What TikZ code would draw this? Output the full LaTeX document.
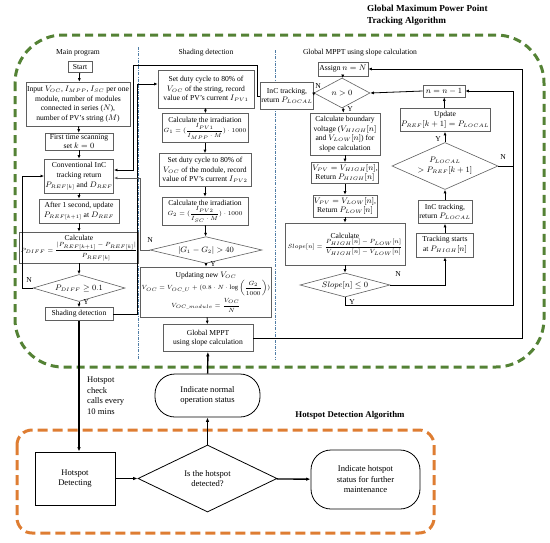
\documentclass[tikz,border=0pt]{standalone}
\usepackage{amsmath}
\usepackage{fontspec}
\setmainfont{Liberation Serif}
\usetikzlibrary{shapes.geometric,arrows.meta,calc}
\newcommand\fsz{\fontsize{7.6}{9.6}\selectfont}
\newcommand\ffs{\fontsize{6.5}{7.6}\selectfont}
\newcommand\fbig{\fontsize{8.6}{10.5}\selectfont}
\definecolor{grn}{RGB}{84,130,53}
\definecolor{org}{RGB}{222,125,50}
\definecolor{sepc}{RGB}{80,125,165}
\definecolor{bgray}{RGB}{95,95,95}
\begin{document}
\begin{tikzpicture}[x=1pt,y=-1pt,
  box/.style={draw=bgray, line width=0.6pt, fill=white, align=center, font=\fsz, inner sep=1pt},
  dia/.style={diamond, draw=bgray, line width=0.6pt, fill=white, align=center, font=\fsz, inner sep=0pt, aspect=3},
  bbox/.style={draw=black, line width=0.8pt, fill=white, align=center, font=\fbig, inner sep=1pt},
  arr/.style={-{Latex[length=3.5pt,width=3pt]}, line width=0.8pt},
  ln/.style={line width=0.8pt},
  barr/.style={-{Latex[length=4.5pt,width=3.5pt]}, line width=1.4pt},
  lbl/.style={font=\fsz, inner sep=0pt},
  sep/.style={draw=sepc, line width=0.7pt, dash pattern=on 3pt off 1.3pt on 0.7pt off 1.3pt}]
\useasboundingbox (0,0) rectangle (550,542);
% frames
\draw[grn, line width=3pt, dash pattern=on 8pt off 5pt, rounded corners=48pt] (15,35) rectangle (544,367);
\draw[org, line width=3pt, dash pattern=on 10pt off 5pt, rounded corners=15pt] (17,430) rectangle (434,533);
\node[font=\fontsize{9.2}{12}\selectfont\bfseries, align=left, anchor=north west, inner sep=0pt] (title) at (367,5) {Global Maximum Power Point\\Tracking Algorithm};
\node[font=\fontsize{8.8}{11}\selectfont\bfseries, inner sep=0pt] (title2) at (350,415) {Hotspot Detection Algorithm};
% separators
\draw[sep] (138,47) -- (138,360);
\draw[sep] (275,50) -- (275,360);
% column labels
\node[lbl] (l1) at (78,53) {Main program};
\node[lbl] (l2) at (206,53) {Shading detection};
\node[lbl] (l3) at (360,53) {Global MPPT using slope calculation};
% main program
\node[box, minimum width=24, minimum height=11] (start) at (80,67) {Start};
\node[box, minimum width=100, minimum height=44] (input) at (78,104) {Input $V_{OC}$, $I_{MPP}$, $I_{SC}$ per one\\module, number of modules\\connected in series ($N$),\\number of PV's string ($M$)};
\node[box, minimum width=68, minimum height=17] (first) at (79,141.5) {First time scanning\\set $k=0$};
\node[box, minimum width=68, minimum height=34] (conv) at (79,176) {Conventional InC\\tracking return\\$P_{REF[k]}$ and $D_{REF}$};
\node[box, minimum width=80, minimum height=24] (after) at (79,211) {After 1 second, update\\$P_{REF[k+1]}$ at $D_{REF}$};
\node[box, minimum width=104, minimum height=31] (calc) at (79,247.5) {Calculate\\[1pt]{\ffs $P_{DIFF}=\dfrac{|P_{REF[k+1]}-P_{REF[k]}|}{P_{REF[k]}}$}};
\node[dia, minimum width=92, minimum height=27] (pdiff) at (79,288) {$P_{DIFF}\geq 0.1$};
\node[box, minimum width=68, minimum height=13] (shade) at (79,314) {Shading detection};
% shading detection
\node[box, minimum width=96, minimum height=38] (sd1) at (206,89) {Set duty cycle to 80\% of\\$V_{OC}$ of the string, record\\value of PV's current $I_{PV1}$};
\node[box, minimum width=86, minimum height=29] (sd2) at (205,128) {Calculate the irradiation\\[1pt]{\ffs $G_1=(\dfrac{I_{PV1}}{I_{MPP}\cdot M})\cdot 1000$}};
\node[box, minimum width=92, minimum height=33] (sd3) at (205,170) {Set duty cycle to 80\% of\\$V_{OC}$ of the module, record\\value of PV's current $I_{PV2}$};
\node[box, minimum width=86, minimum height=28] (sd4) at (205,211) {Calculate the irradiation\\[1pt]{\ffs $G_2=(\dfrac{I_{PV2}}{I_{SC}\cdot M})\cdot 1000$}};
\node[dia, minimum width=112, minimum height=26] (gdia) at (206,250) {$|G_1-G_2|>40$};
\node[box, minimum width=130, minimum height=50] (sd5) at (206,292) {Updating new $V_{OC}$\\[1pt]{\ffs $V_{OC}=V_{OC\_U}+(0.8\cdot N\cdot\log\left(\dfrac{G_2}{1000}\right))$}\\[1pt]{\ffs $V_{OC\_module}=\dfrac{V_{OC}}{N}$}};
\node[box, minimum width=90, minimum height=27] (gm) at (208,338) {Global MPPT\\using slope calculation};
% global mppt column
\node[box, minimum width=50, minimum height=14] (assign) at (343,69) {Assign $n=N$};
\node[dia, minimum width=56, minimum height=30] (ndia) at (342,93) {$n>0$};
\node[box, minimum width=50, minimum height=27] (inc1) at (287,96) {InC tracking,\\return $P_{LOCAL}$};
\node[box, minimum width=70, minimum height=42] (cb) at (345,134) {Calculate boundary\\voltage ($V_{HIGH}[n]$\\and $V_{LOW}[n]$) for\\slope calculation};
\node[box, minimum width=66, minimum height=21] (vh) at (345,173) {$V_{PV}=V_{HIGH}[n]$,\\Return $P_{HIGH}[n]$};
\node[box, minimum width=64, minimum height=22] (vl) at (345,206) {$V_{PV}=V_{LOW}[n]$,\\Return $P_{LOW}[n]$};
\node[box, minimum width=120, minimum height=42] (calcs) at (345,244) {Calculate\\[1pt]{\ffs $Slope[n]=\dfrac{P_{HIGH}[n]-P_{LOW}[n]}{V_{HIGH}[n]-V_{LOW}[n]}$}};
\node[dia, minimum width=90, minimum height=24] (sdia) at (345,285) {$Slope[n]\leq 0$};
\node[box, minimum width=42, minimum height=12] (nm1) at (444,91) {$n=n-1$};
\node[box, minimum width=84, minimum height=23] (upd) at (445,120) {Update\\$P_{REF}[k+1]=P_{LOCAL}$};
\node[dia, minimum width=106, minimum height=47] (pldia) at (445,166) {$P_{LOCAL}$\\$>P_{REF}[k+1]$};
\node[box, minimum width=54, minimum height=23] (inc2) at (445,212) {InC tracking,\\return $P_{LOCAL}$};
\node[box, minimum width=57, minimum height=24] (ts) at (445,245) {Tracking starts\\at $P_{HIGH}[n]$};
% bottom
\node[bbox, minimum width=80, minimum height=53] (hd) at (75,478.5) {Hotspot\\Detecting};
\node[diamond, draw=black, line width=0.8pt, align=center, font=\fbig, inner sep=0pt, minimum width=139, minimum height=67, aspect=2] (dd) at (207.5,478.5) {Is the hotspot\\detected?};
\node[bbox, minimum width=105, minimum height=43, rounded corners=20pt] (norm) at (207.5,395.5) {Indicate normal\\operation status};
\node[bbox, minimum width=109, minimum height=59, rounded corners=20pt] (hs) at (365.5,479.5) {Indicate hotspot\\status for further\\maintenance};
\node[font=\fbig, align=left, anchor=north west, inner sep=0pt] (hc) at (87,377) {Hotspot\\check\\calls every\\10 mins};
% connectors main
\draw[arr] (start) -- (input);
\draw[arr] (input) -- (first);
\draw[arr] (first) -- (conv);
\draw[arr] (conv) -- (after);
\draw[arr] (after) -- (calc);
\draw[arr] (calc) -- (pdiff);
\draw[arr] (pdiff) -- (shade);
\draw[arr] (pdiff.west) -- (22,288) |- (conv.west);
\node[lbl] (n1) at (29,280) {N};
\node[lbl] (y1) at (86,302) {Y};
\draw[arr] (shade.east) -| (137,84) -- (sd1.west |- 0,84);
\draw[arr] (inc1.west) -| (257,65) -| (133,170) -- (conv.east |- 0,170);
\draw[arr, draw=bgray] (gdia.west) -| (140,178) -- (conv.east |- 0,178);
% shading
\draw[arr] (sd1) -- (sd2);
\draw[arr] (sd2) -- (sd3);
\draw[arr] (sd3) -- (sd4);
\draw[arr] (sd4) -- (gdia);
\draw[arr] (gdia) -- (sd5);
\draw[arr] (sd5) -- (gm);
\node[lbl] (n2) at (150,240) {N};
\node[lbl] (y2) at (213,264) {Y};
\draw[arr] (gm.east) -| (522,69) -- (assign.east);
% global mppt
\draw[arr] (assign) -- (ndia);
\draw[arr] (ndia.west) -- (inc1.east);
\node[lbl] (n3) at (318,86) {N};
\draw[arr] (ndia) -- (cb);
\node[lbl] (y3) at (350,109) {Y};
\draw[arr] (cb) -- (vh);
\draw[arr] (vh) -- (vl);
\draw[arr] (vl) -- (calcs);
\draw[arr] (calcs) -- (sdia);
\draw[arr] (sdia.east) -| (ts.south);
\node[lbl] (n4) at (398,274) {N};
\draw[arr] (sdia.south) -- (345,305) -| (513,91) -- (nm1.east);
\node[lbl] (y4) at (352,302) {Y};
\draw[arr] (ts) -- (inc2);
\draw[arr] (inc2) -- (pldia);
\draw[arr] (pldia) -- (upd);
\node[lbl] (y5) at (438,139) {Y};
\draw[arr] (upd) -- (nm1);
\draw[arr] (nm1.west) -- (ndia.east);
\draw[ln] (pldia.east) -- (513,166);
\node[lbl] (n5) at (503,157) {N};
% bottom connectors
\draw[barr] (shade.south) -- (shade.south |- hd.north);
\draw[barr] (hd) -- (dd);
\draw[barr] (dd) -- (hs);
\draw[barr] (dd) -- (norm);
\draw[barr] (norm) -- (gm);
\end{tikzpicture}
\end{document}
